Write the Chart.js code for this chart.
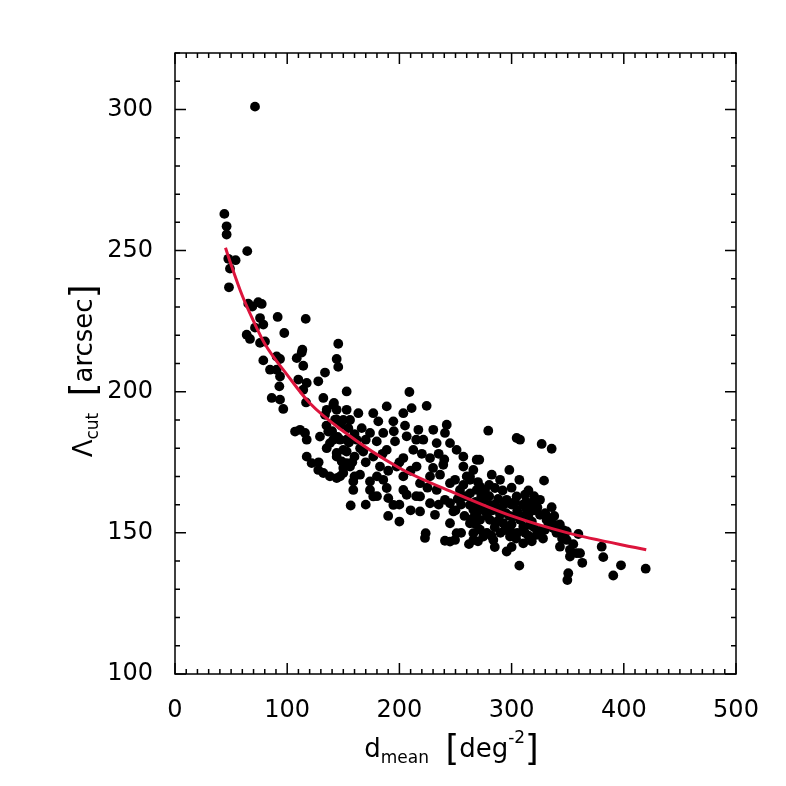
<!DOCTYPE html>
<html>
<head>
<meta charset="utf-8">
<script src="https://cdn.jsdelivr.net/npm/chart.js@4.4.1/dist/chart.umd.min.js"></script>
<style>
  html, body { margin: 0; padding: 0; background: #fff; }
  #wrap { width: 786px; height: 786px; }
</style>
</head>
<body>
<div id="wrap"><canvas id="chart" width="786" height="786"></canvas></div>
<script>
// scatter: d_mean [deg^-2] vs Lambda_cut [arcsec]
const dmean = [
  71.3, 44.0, 46.0, 46.0, 47.5, 54.0, 49.0, 64.4, 48.1, 65.3, 68.9, 74.2, 77.3, 75.8, 78.7, 71.3,
  91.5, 116.5, 97.4, 63.9, 66.8, 75.8, 80.2, 145.5, 113.5,
  112.9, 108.5, 78.7, 93.6, 90.6, 114.3, 144.1, 145.5, 133.7, 84.7, 90.6, 93.6, 109.9, 117.4, 127.7,
  114.3, 93.0, 86.2, 93.6, 96.5, 116.8, 132.2, 141.1, 153.0, 135.2, 133.7, 144.1, 153.0, 142.6,
  107.0, 111.4, 115.9, 117.4, 129.2, 136.6, 138.1, 141.1, 135.2, 144.1, 153.0, 150.0, 117.4, 121.8,
  127.7, 132.2, 138.1, 144.1, 150.0, 153.0, 148.6,
  208.9, 224.3, 188.7, 141.7, 176.7, 163.4, 203.5, 210.9, 194.6, 181.2, 144.1, 242.2, 230.2, 216.9,
  166.4, 154.5, 240.6, 185.6, 173.8, 206.5, 221.3, 233.2, 245.1, 196.1, 179.8, 161.9, 147.1, 251.0,
  212.4, 188.7, 167.8, 153.0, 268.9, 257.0, 227.3, 203.5, 176.7, 144.1, 257.0, 239.1, 215.3, 197.6,
  182.7, 156.0, 262.9, 227.3, 203.5, 164.9, 147.1, 245.1, 218.4, 185.6, 173.8, 158.9, 268.9, 233.2,
  203.5, 188.7, 173.8, 158.9, 257.0, 218.4, 206.5, 190.1, 176.7, 245.1, 227.3, 194.6, 265.9, 248.1,
  218.4, 156.6, 262.9, 245.1, 223.4, 251.0, 245.1, 265.9,
  279.2, 304.5, 307.5, 326.8, 335.7, 271.2, 265.9, 282.3, 298.0, 306.9, 328.9, 271.8, 285.2, 304.5,
  295.6, 274.8, 335.7, 317.9, 322.4, 313.5, 286.5, 268.9, 325.3, 301.5, 280.7, 331.2, 292.6, 337.1,
  310.4, 271.8, 349.1, 359.5, 322.4, 298.6, 283.7, 310.4, 349.1, 343.1, 352.0, 358.0, 295.6, 274.8,
  265.9,
  306.9, 380.3, 381.7, 397.5, 390.6, 419.5, 350.5, 349.7, 363.0, 361.0, 352.0, 346.0,
  280.7, 289.7, 307.5, 316.4, 298.6, 271.8, 262.9, 254.0, 249.6, 276.3, 289.7, 311.9, 325.3, 329.7,
  338.6, 262.9, 236.2, 240.6, 231.7, 240.6, 249.6, 222.8,
  255, 260, 265, 270, 275, 280, 285, 290, 295, 300, 305, 310, 315, 320, 285, 290, 300, 305, 315, 320,
  330, 335, 340, 278, 268, 258, 250, 260, 270, 280, 292, 300, 315, 320, 255, 262, 285, 300, 318, 328,
  345, 355,
  140, 148, 156, 160, 165, 170, 150, 160, 170, 180, 190, 200, 185, 195, 205, 215, 220, 210, 230, 235,
  240, 225, 215, 200, 210, 235, 180, 170, 190, 200,
  252, 257, 263, 268, 273, 278, 283, 288, 293, 298, 303, 308, 313, 318, 323, 333, 338, 343, 287, 294,
  304, 312, 327, 270, 282,
  135, 145, 150, 155, 158, 128, 160
];
const lambdaCut = [
  301.0, 263.0, 258.6, 255.7, 247.1, 246.6, 243.6, 249.8, 237.0, 231.2, 230.2, 231.7, 231.1, 226.1, 223.8, 222.7,
  226.5, 225.8, 220.8, 220.2, 218.7, 217.3, 217.8, 217.0, 214.9,
  213.9, 211.9, 211.1, 211.6, 212.5, 209.2, 211.6, 208.8, 206.8, 207.8, 207.8, 205.4, 204.3, 203.1, 203.7,
  200.7, 201.9, 197.8, 197.2, 193.9, 196.2, 197.8, 195.4, 200.1, 193.6, 191.8, 193.6, 193.6, 190.1,
  185.9, 186.5, 185.4, 183.0, 184.1, 185.9, 181.8, 183.0, 180.0, 178.3, 183.0, 179.4, 177.0, 174.7,
  172.3, 171.2, 170.0, 169.4, 171.2, 174.7, 175.3,
  199.9, 195.0, 194.8, 196.0, 192.4, 192.4, 192.4, 194.2, 189.5, 189.5, 190.1, 188.3, 186.5, 186.5,
  187.1, 187.1, 185.4, 185.4, 185.4, 184.2, 183.0, 181.8, 181.8, 182.4, 182.4, 183.0, 183.0, 179.4,
  179.4, 179.4, 178.8, 178.8, 175.9, 177.0, 176.5, 176.5, 177.0, 177.0, 173.5, 174.1, 173.5, 173.5,
  173.5, 173.5, 170.0, 170.0, 170.0, 170.6, 170.0, 167.6, 167.6, 168.8, 168.2, 168.2, 165.2, 165.2,
  165.2, 165.9, 165.2, 165.2, 162.9, 162.9, 163.5, 162.3, 162.9, 160.5, 160.5, 159.9, 158.2, 157.6,
  157.6, 159.7, 153.4, 153.4, 149.9, 149.9, 146.9, 147.5,
  186.2, 183.6, 183.0, 181.5, 179.8, 175.9, 172.3, 170.6, 172.3, 168.8, 168.5, 166.4, 165.9, 162.9,
  161.7, 161.7, 159.1, 160.5, 161.1, 158.2, 158.2, 157.0, 156.4, 155.8, 154.6, 154.6, 153.4, 151.7,
  152.2, 151.1, 150.5, 149.6, 149.3, 148.7, 147.5, 146.3, 147.5, 145.1, 144.0, 142.8, 143.4, 148.7,
  149.9,
  138.4, 145.1, 141.4, 138.5, 134.9, 137.3, 135.7, 133.3, 139.4, 142.8, 141.6, 151.0,
  159.9, 156.4, 154.6, 152.8, 151.1, 154.6, 159.9, 165.2, 168.8, 165.2, 168.8, 163.5, 161.7, 151.1,
  152.8, 168.8, 170.6, 161.7, 156.4, 147.2, 147.5, 148.2,
  160, 163, 155, 160, 158, 163, 160, 158, 157, 160, 158, 160, 156, 158, 152, 150, 153, 150, 149, 152,
  157, 155, 150, 150, 153, 156, 158, 170, 168, 167, 165, 166, 165, 163, 150, 146, 145, 145, 147, 148,
  148, 146,
  186, 188, 190, 185, 180, 183, 173, 177, 175, 170, 172, 175, 178, 186, 188, 183, 178, 172, 173, 178,
  176, 166, 163, 160, 158, 160, 163, 160, 156, 154,
  162, 167, 164, 161, 163, 156, 158, 162, 160, 156, 161, 156, 161, 154, 159, 153, 156, 153, 154, 151,
  148, 150, 151, 147, 149,
  188, 184, 190, 182, 175, 175, 170
];

// fitted curve
const fitX = [45, 50, 60, 70, 80, 100, 120, 150, 200, 250, 300, 350, 420];
const fitY = [251, 245, 234, 225, 217, 206, 196, 186, 173, 164, 156, 150, 144];

const xTicks = [0, 100, 200, 300, 400, 500];
const yTicks = [100, 150, 200, 250, 300];

const FONT = '"DejaVu Sans", sans-serif';

const frame = {
  id: 'frame',
  afterDraw(chart) {
    const { ctx, chartArea: a, scales: { x, y } } = chart;
    ctx.save();
    ctx.strokeStyle = '#000';
    ctx.lineWidth = 1.5;
    ctx.strokeRect(a.left, a.top, a.right - a.left, a.bottom - a.top);

    ctx.beginPath();
    for (let v = 0; v <= 500; v += 10) {
      const px = x.getPixelForValue(v);
      const len = v % 100 === 0 ? 11 : 5;
      ctx.moveTo(px, a.bottom); ctx.lineTo(px, a.bottom - len);
      ctx.moveTo(px, a.top); ctx.lineTo(px, a.top + len);
    }
    for (let v = 100; v <= 320; v += 10) {
      const py = y.getPixelForValue(v);
      const len = v % 50 === 0 ? 11 : 5;
      ctx.moveTo(a.left, py); ctx.lineTo(a.left + len, py);
      ctx.moveTo(a.right, py); ctx.lineTo(a.right - len, py);
    }
    ctx.stroke();

    ctx.fillStyle = '#000';
    ctx.textBaseline = 'alphabetic';
    ctx.textAlign = 'left';

    const big = '26px ' + FONT, sub = '17px ' + FONT, br = '35px ' + FONT;
    const widthOf = ps => ps.reduce((s, p) => { ctx.font = p.f; return s + ctx.measureText(p.t).width; }, 0);
    const drawParts = (ps, x0, y0) => {
      let cx = x0 - widthOf(ps) / 2;
      for (const p of ps) {
        ctx.font = p.f;
        ctx.fillText(p.t, cx, y0 + p.dy);
        cx += ctx.measureText(p.t).width;
      }
    };

    // x title: d_mean [deg^-2]
    drawParts([
      { t: 'd', f: big, dy: 0 },
      { t: 'mean', f: sub, dy: 6 },
      { t: '  ', f: big, dy: 0 },
      { t: '[', f: br, dy: 3 },
      { t: 'deg', f: big, dy: 0 },
      { t: '-2', f: sub, dy: -14 },
      { t: ']', f: br, dy: 3 }
    ], (a.left + a.right) / 2 - 4, 757);

    // y title: Lambda_cut [arcsec]
    ctx.translate(92, 371);
    ctx.rotate(-Math.PI / 2);
    drawParts([
      { t: 'Λ', f: big, dy: 0 },
      { t: 'cut', f: sub, dy: 6 },
      { t: '  ', f: big, dy: 0 },
      { t: '[', f: br, dy: 3 },
      { t: 'arcsec', f: big, dy: 0 },
      { t: ']', f: br, dy: 3 }
    ], 0, 0);
    ctx.restore();
  }
};

new Chart(document.getElementById('chart'), {
  type: 'scatter',
  data: {
    datasets: [
      {
        label: 'fit',
        data: fitX.map((v, i) => ({ x: v, y: fitY[i] })),
        showLine: true,
        borderColor: '#dc143c',
        borderWidth: 3,
        pointRadius: 0,
        cubicInterpolationMode: 'monotone',
        order: 0
      },
      {
        label: 'data',
        data: dmean.map((v, i) => ({ x: v, y: lambdaCut[i] })),
        backgroundColor: '#000',
        borderColor: '#000',
        borderWidth: 0,
        pointRadius: 4.9,
        order: 1
      }
    ]
  },
  options: {
    responsive: false,
    animation: false,
    layout: { padding: { top: 53, right: 50, left: 0, bottom: 0 } },
    plugins: { legend: { display: false }, tooltip: { enabled: false } },
    scales: {
      x: {
        type: 'linear', min: 0, max: 500,
        grid: { display: false }, border: { display: false },
        afterBuildTicks: s => { s.ticks = xTicks.map(v => ({ value: v })); },
        afterFit: s => { s.height = 112; },
        ticks: { padding: 14, color: '#000', maxRotation: 0, font: { family: FONT, size: 24 } }
      },
      y: {
        type: 'linear', min: 100, max: 320,
        grid: { display: false }, border: { display: false },
        afterBuildTicks: s => { s.ticks = yTicks.map(v => ({ value: v })); },
        afterFit: s => { s.width = 175; },
        ticks: { padding: 14, color: '#000', font: { family: FONT, size: 24 } }
      }
    }
  },
  plugins: [frame]
});
</script>
</body>
</html>
